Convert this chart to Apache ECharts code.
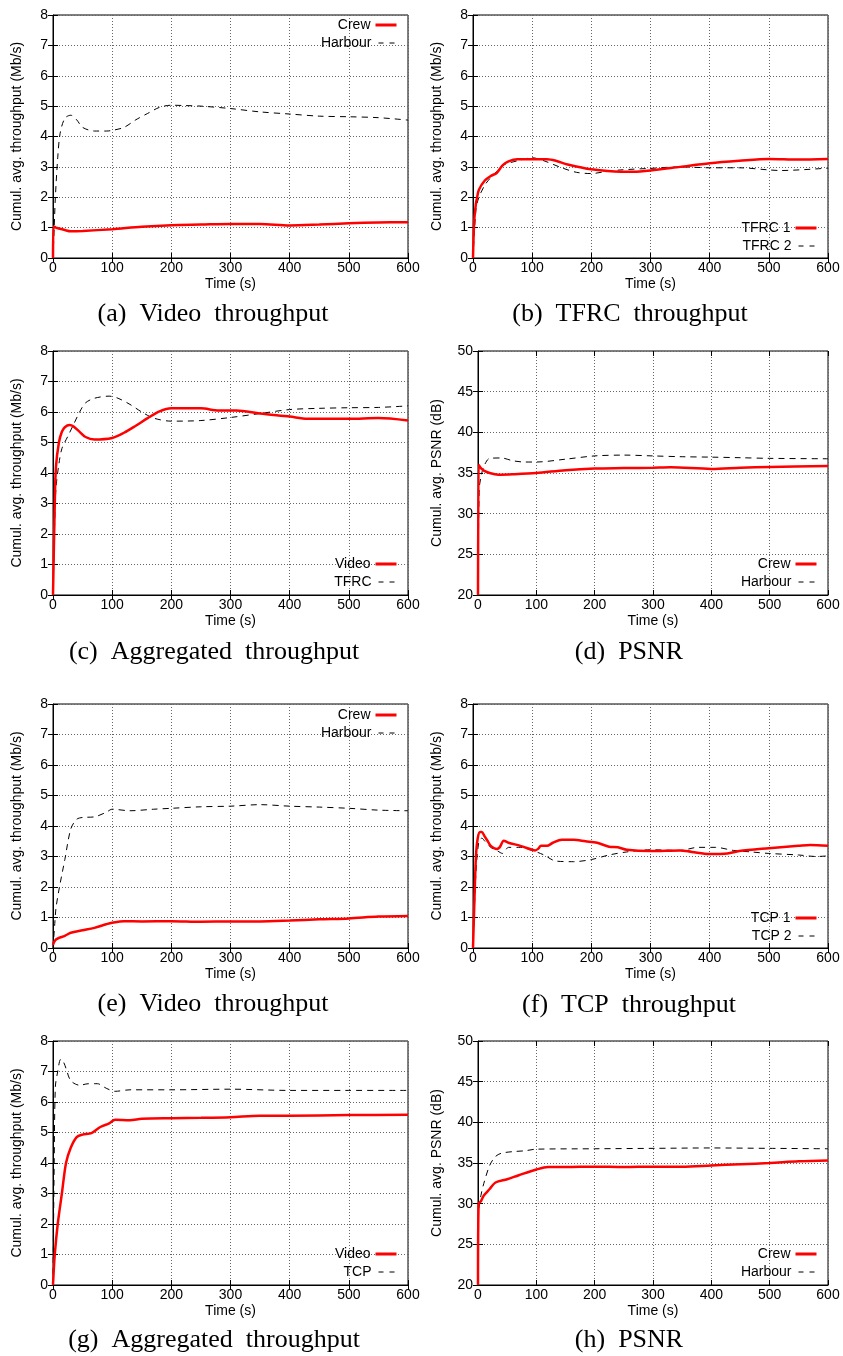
<!DOCTYPE html>
<html>
<head>
<meta charset="utf-8">
<script src="https://cdn.jsdelivr.net/npm/echarts@6/dist/echarts.min.js"></script>
<style>
html,body{margin:0;padding:0;background:#fff;}
#c{width:843px;height:1356px;}
</style>
</head>
<body>
<div id="c"></div>
<script>
// ---------- data (time in s) ----------
const xTicks = [0, 100, 200, 300, 400, 500, 600];

// (a) Video throughput
const aCrewT = [0,1,5,10,20,30,50,100,150,200,250,300,350,400,450,500,550,600];
const aCrewV = [0,1.04,1.0,0.97,0.92,0.88,0.89,0.95,1.03,1.08,1.1,1.12,1.12,1.07,1.1,1.14,1.17,1.18];
const aHarbT = [0,2,4,8,12,20,30,40,50,70,90,100,120,140,160,180,200,220,250,300,350,400,450,500,550,600];
const aHarbV = [0,1.0,2.0,3.3,4.1,4.6,4.7,4.55,4.3,4.18,4.18,4.2,4.3,4.55,4.76,4.96,5.03,5.02,5.0,4.92,4.81,4.74,4.67,4.65,4.62,4.54];

// (b) TFRC throughput
const bT1T = [0,2,5,7,10,20,30,40,50,60,75,100,125,140,160,200,250,270,300,350,400,450,500,550,600];
const bT1V = [0,1.2,1.8,2.0,2.25,2.55,2.7,2.8,3.05,3.18,3.25,3.25,3.25,3.2,3.08,2.92,2.84,2.84,2.88,3.0,3.12,3.2,3.26,3.24,3.26];
const bT2T = [0,5,10,20,30,40,50,75,100,120,150,175,200,220,250,300,350,400,450,500,520,600];
const bT2V = [0,1.6,2.0,2.4,2.65,2.85,3.05,3.2,3.3,3.2,2.97,2.82,2.78,2.83,2.9,2.95,3.0,2.97,2.97,2.9,2.88,2.96];

// (c) Aggregated throughput (TFRC scenario)
const cVidT = [0,3,5,10,15,20,28,35,45,55,70,100,120,140,160,180,200,250,280,310,350,400,430,500,550,600];
const cVidV = [0,3,4.2,5.0,5.35,5.5,5.57,5.52,5.35,5.18,5.1,5.15,5.32,5.55,5.8,6.02,6.12,6.12,6.05,6.05,5.95,5.85,5.78,5.78,5.8,5.72];
const cTfrcT = [0,3,5,10,15,25,35,45,55,70,95,110,130,150,170,200,250,300,350,400,450,500,550,600];
const cTfrcV = [0,2.5,3.5,4.3,4.8,5.2,5.6,6.0,6.3,6.45,6.52,6.45,6.25,6.0,5.8,5.7,5.72,5.82,5.95,6.08,6.12,6.14,6.15,6.2];

// (d) PSNR (TFRC scenario)
const dCrewT = [0,1,2,5,10,20,35,60,100,150,200,250,300,330,400,450,500,600];
const dCrewV = [20,36,35.9,35.6,35.3,35.0,34.8,34.85,35.0,35.35,35.55,35.6,35.65,35.7,35.5,35.65,35.75,35.85];
const dHarbT = [0,2,5,10,20,40,60,80,100,150,200,250,300,350,400,450,500,600];
const dHarbV = [20,33,34.5,35.8,36.8,36.85,36.5,36.35,36.35,36.7,37.1,37.2,37.1,37.0,36.95,36.88,36.8,36.75];

// (e) Video throughput (TCP scenario)
const eCrewT = [0,2,5,10,20,30,50,70,90,100,120,150,200,250,300,350,400,450,500,550,600];
const eCrewV = [0.1,0.2,0.28,0.33,0.4,0.5,0.58,0.66,0.78,0.83,0.88,0.87,0.88,0.86,0.87,0.87,0.9,0.94,0.97,1.03,1.05];
const eHarbT = [0,3,5,10,20,30,40,50,70,90,100,130,170,200,250,300,350,400,450,500,550,600];
const eHarbV = [0,0.8,1.3,1.9,2.9,3.9,4.22,4.28,4.3,4.45,4.55,4.5,4.55,4.58,4.63,4.65,4.7,4.65,4.62,4.58,4.52,4.5];

// (f) TCP throughput
const fT1T = [0,2,5,8,12,15,20,25,30,40,45,52,60,80,100,105,110,115,125,135,150,170,190,210,230,245,260,300,350,370,400,430,450,500,550,570,600];
const fT1V = [0,1.3,3.0,3.6,3.8,3.8,3.65,3.5,3.35,3.25,3.3,3.52,3.45,3.35,3.22,3.2,3.25,3.35,3.35,3.45,3.55,3.55,3.5,3.45,3.32,3.3,3.22,3.18,3.2,3.15,3.08,3.1,3.18,3.27,3.35,3.38,3.35];
const fT2T = [0,5,10,15,20,30,40,50,60,80,100,120,140,170,200,230,260,300,350,380,410,440,470,500,550,580,600];
const fT2V = [0,2.5,3.5,3.6,3.5,3.3,3.2,3.1,3.3,3.3,3.2,3.05,2.85,2.83,2.9,3.05,3.15,3.22,3.2,3.3,3.3,3.2,3.15,3.1,3.05,3.0,3.02];

// (g) Aggregated throughput (TCP scenario)
const gVidT = [0,3,8,15,22,30,40,50,65,80,95,105,130,150,200,250,300,350,400,500,600];
const gVidV = [0,1.0,2.0,3.0,4.0,4.5,4.85,4.93,4.98,5.18,5.3,5.42,5.4,5.45,5.47,5.48,5.5,5.55,5.55,5.57,5.58];
const gTcpT = [0,2,4,8,13,18,22,30,45,60,75,90,105,130,200,300,400,500,600];
const gTcpV = [0,4.0,6.5,7.0,7.4,7.3,7.1,6.7,6.55,6.6,6.6,6.45,6.35,6.4,6.4,6.42,6.38,6.38,6.38];

// (h) PSNR (TCP scenario)
const hCrewT = [0,1,5,10,20,30,50,70,100,120,150,200,250,300,350,400,450,500,550,600];
const hCrewV = [20,30,30.3,31,31.8,32.6,33.0,33.5,34.2,34.5,34.5,34.55,34.5,34.55,34.55,34.7,34.85,35.0,35.2,35.3];
const hHarbT = [0,1,5,10,20,30,40,60,80,100,200,300,400,500,600];
const hHarbV = [20,29,31,32.5,34.7,35.8,36.2,36.4,36.5,36.7,36.75,36.8,36.85,36.8,36.75];

const thrLabel = 'Cumul. avg. throughput (Mb/s)';
const psnrLabel = 'Cumul. avg. PSNR (dB)';
const xLabel = 'Time (s)';

// ---------- layout ----------
const panels = [
  {g:{left:53,top:15,width:355,height:243}, y:[0,8,1], yName:thrLabel, nameGap:29,
   s:[['Crew',aCrewT,aCrewV,'r'],['Harbour',aHarbT,aHarbV,'k']], legR:445, legY:[26,44],
   cap:'(a)  Video  throughput', capX:213, capY:314},
  {g:{left:473,top:15,width:355,height:243}, y:[0,8,1], yName:thrLabel, nameGap:29,
   s:[['TFRC 1',bT1T,bT1V,'r'],['TFRC 2',bT2T,bT2V,'k']], legR:25, legY:[229,247],
   cap:'(b)  TFRC  throughput', capX:630, capY:314},
  {g:{left:53,top:351,width:355,height:244}, y:[0,8,1], yName:thrLabel, nameGap:29,
   s:[['Video',cVidT,cVidV,'r'],['TFRC',cTfrcT,cTfrcV,'k']], legR:445, legY:[565,583],
   cap:'(c)  Aggregated  throughput', capX:214, capY:652},
  {g:{left:478,top:351,width:350,height:244}, y:[20,50,5], yName:psnrLabel, nameGap:34,
   s:[['Crew',dCrewT,dCrewV,'r'],['Harbour',dHarbT,dHarbV,'k']], legR:25, legY:[565,583],
   cap:'(d)  PSNR', capX:629, capY:652},
  {g:{left:53,top:704,width:355,height:244}, y:[0,8,1], yName:thrLabel, nameGap:29,
   s:[['Crew',eCrewT,eCrewV,'r'],['Harbour',eHarbT,eHarbV,'k']], legR:445, legY:[716,734],
   cap:'(e)  Video  throughput', capX:213, capY:1004},
  {g:{left:473,top:704,width:355,height:244}, y:[0,8,1], yName:thrLabel, nameGap:29,
   s:[['TCP 1',fT1T,fT1V,'r'],['TCP 2',fT2T,fT2V,'k']], legR:25, legY:[919,937],
   cap:'(f)  TCP  throughput', capX:629, capY:1005},
  {g:{left:53,top:1041,width:355,height:244}, y:[0,8,1], yName:thrLabel, nameGap:29,
   s:[['Video',gVidT,gVidV,'r'],['TCP',gTcpT,gTcpV,'k']], legR:445, legY:[1255,1273],
   cap:'(g)  Aggregated  throughput', capX:214, capY:1340},
  {g:{left:478,top:1041,width:350,height:244}, y:[20,50,5], yName:psnrLabel, nameGap:34,
   s:[['Crew',hCrewT,hCrewV,'r'],['Harbour',hHarbT,hHarbV,'k']], legR:25, legY:[1255,1273],
   cap:'(h)  PSNR', capX:629, capY:1340}
];

const SANS = "'Liberation Sans', Arial, Helvetica, sans-serif";
const SERIF = "'Liberation Serif', 'Times New Roman', serif";

const option = {
  animation: false,
  backgroundColor: '#fff',
  grid: [], xAxis: [], yAxis: [], series: [], legend: [], graphic: []
};

panels.forEach((p, i) => {
  option.grid.push(Object.assign({show:true, borderColor:'#000', borderWidth:1, backgroundColor:'transparent'}, p.g));
  const xi = option.xAxis.length, yi = option.yAxis.length;
  option.xAxis.push({
    type:'value', gridIndex:i, min:xTicks[0], max:xTicks[xTicks.length-1], interval:xTicks[1]-xTicks[0],
    position:'bottom',
    name:xLabel, nameLocation:'middle', nameGap:19,
    nameTextStyle:{fontFamily:SANS, fontSize:14, color:'#000'},
    axisLine:{show:true, onZero:false, lineStyle:{color:'#000', width:1}},
    axisTick:{show:true, inside:true, length:5, lineStyle:{color:'#000'}},
    axisLabel:{show:true, margin:3, fontFamily:SANS, fontSize:14, color:'#000', showMinLabel:true, showMaxLabel:true},
    splitLine:{show:true, lineStyle:{color:'#666', type:[1,2], width:1}}
  });
  option.xAxis.push({
    type:'value', gridIndex:i, min:xTicks[0], max:xTicks[xTicks.length-1], interval:xTicks[1]-xTicks[0],
    position:'top',
    axisLine:{show:false}, axisTick:{show:true, inside:true, length:5, lineStyle:{color:'#000'}},
    axisLabel:{show:false}, splitLine:{show:false}
  });
  option.yAxis.push({
    type:'value', gridIndex:i, min:p.y[0], max:p.y[1], interval:p.y[2],
    position:'left',
    name:p.yName, nameLocation:'middle', nameGap:p.nameGap, nameRotate:90,
    nameTextStyle:{fontFamily:SANS, fontSize:14, color:'#000'},
    axisLine:{show:true, onZero:false, lineStyle:{color:'#000', width:1}},
    axisTick:{show:true, inside:true, length:5, lineStyle:{color:'#000'}},
    axisLabel:{show:true, margin:5, fontFamily:SANS, fontSize:14, color:'#000', showMinLabel:true, showMaxLabel:true},
    splitLine:{show:true, lineStyle:{color:'#666', type:[1,2], width:1}}
  });
  option.yAxis.push({
    type:'value', gridIndex:i, min:p.y[0], max:p.y[1], interval:p.y[2],
    position:'right',
    axisLine:{show:false}, axisTick:{show:true, inside:true, length:5, lineStyle:{color:'#000'}},
    axisLabel:{show:false}, splitLine:{show:false}
  });
  p.s.forEach((s, k) => {
    const red = s[3] === 'r';
    option.series.push({
      type:'line', name:s[0], xAxisIndex:xi, yAxisIndex:yi,
      data: s[1].map((t, j) => [t, s[2][j]]),
      symbol:'none', showSymbol:false, smooth:0.3, clip:true,
      z: red ? 3 : 2,
      lineStyle: red ? {color:'#ff0000', width:2.5, type:'solid'}
                     : {color:'#000', width:1, type:[6,5]},
      itemStyle: {color: red ? '#ff0000' : '#000'}
    });
    option.legend.push({
      data:[s[0]], orient:'horizontal', align:'right', selectedMode:false,
      right:p.legR, top:p.legY[k]-8, itemWidth:21, itemHeight:14, itemGap:0, padding:0,
      itemStyle:{color:'rgba(0,0,0,0)', borderWidth:0, opacity:0},
      lineStyle: red ? {color:'#ff0000', width:3, type:'solid'}
                     : {color:'#000', width:1, type:[5,6], dashOffset:-2},
      textStyle:{fontFamily:SANS, fontSize:14, color:'#000'}
    });
  });
  option.graphic.push({
    type:'text', x:p.capX, y:p.capY, silent:true,
    style:{text:p.cap, font:"26px " + SERIF, fill:'#000', textAlign:'center', textVerticalAlign:'middle'}
  });
});

const chart = echarts.init(document.getElementById('c'), null, {renderer:'canvas'});
chart.setOption(option);
</script>
</body>
</html>
